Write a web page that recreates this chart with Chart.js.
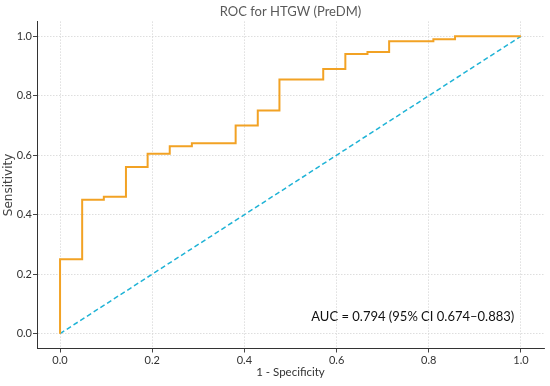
<!DOCTYPE html>
<html>
<head>
<meta charset="utf-8">
<script src="https://cdn.jsdelivr.net/npm/chart.js@4"></script>
<style>
  html, body { margin: 0; padding: 0; background: #ffffff; }
  canvas { display: block; }
</style>
</head>
<body>
<canvas id="c" width="550" height="386"></canvas>
<script>
// ---- data ----
const titleText = "ROC for HTGW (PreDM)";
const xTitle = "1 - Specificity";
const yTitle = "Sensitivity";
const aucText = "AUC = 0.794 (95% CI 0.674\u20130.883)";
const tickValues = [0.0, 0.2, 0.4, 0.6, 0.8, 1.0];
// ROC corner points (false positive rate, true positive rate)
const fpr = [0, 0, 0.048, 0.095, 0.143, 0.190, 0.238, 0.286, 0.381, 0.429, 0.476, 0.571, 0.619, 0.667, 0.714, 0.810, 0.857, 1.0];
const tpr = [0, 0.25, 0.45, 0.46, 0.56, 0.605, 0.63, 0.64, 0.70, 0.75, 0.855, 0.89, 0.94, 0.947, 0.983, 0.99, 1.0, 1.0];
// chance diagonal
const diagX = [0, 1];
const diagY = [0, 1];
// annotation anchor in data units
const aucAnchorX = 0.545;
const aucAnchorY = 0.058;

const rocPoints = fpr.map((x, i) => ({ x: x, y: tpr[i] }));
const diagPoints = diagX.map((x, i) => ({ x: x, y: diagY[i] }));

const whiteBg = {
  id: 'whiteBg',
  beforeDraw(chart) {
    const ctx = chart.ctx;
    ctx.save();
    ctx.fillStyle = '#ffffff';
    ctx.fillRect(0, 0, chart.width, chart.height);
    ctx.restore();
  }
};

const aucLabel = {
  id: 'aucLabel',
  afterDatasetsDraw(chart) {
    const ctx = chart.ctx;
    const xs = chart.scales.x, ys = chart.scales.y;
    ctx.save();
    ctx.font = '13px Lato';
    ctx.fillStyle = '#111111';
    ctx.textAlign = 'left';
    ctx.textBaseline = 'middle';
    ctx.fillText(aucText, xs.getPixelForValue(aucAnchorX), ys.getPixelForValue(aucAnchorY));
    ctx.restore();
  }
};

const setTicks = (axis) => { axis.ticks = tickValues.map(v => ({ value: v })); };

new Chart(document.getElementById('c'), {
  type: 'scatter',
  data: {
    datasets: [
      {
        data: rocPoints,
        showLine: true,
        stepped: true,
        borderColor: '#F2A224',
        borderWidth: 2,
        pointRadius: 0,
        fill: false
      },
      {
        data: diagPoints,
        showLine: true,
        borderColor: '#1FB3D6',
        borderWidth: 1.5,
        borderDash: [5, 3],
        pointRadius: 0,
        fill: false
      }
    ]
  },
  options: {
    responsive: false,
    animation: false,
    layout: { padding: { left: 0, right: 6, top: 0, bottom: 0 } },
    plugins: {
      legend: { display: false },
      tooltip: { enabled: false },
      title: {
        display: true,
        text: titleText,
        fullSize: false,
        color: '#5a5a5a',
        font: { family: 'Lato', size: 13, weight: 'normal' },
        padding: { top: 3.6, bottom: 2.2 }
      }
    },
    scales: {
      x: {
        type: 'linear',
        min: -0.05,
        max: 1.05,
        afterBuildTicks: setTicks,
        afterFit: (s) => { s.height = 37.5; },
        ticks: {
          callback: (v) => Number(v).toFixed(1),
          color: '#333333',
          font: { family: 'Lato', size: 11 },
          padding: 1,
          maxRotation: 0
        },
        grid: {
          color: '#d6d6d6',
          lineWidth: 0.8,
          tickLength: 4,
          tickColor: '#444444',
          tickWidth: 1,
          tickBorderDash: []
        },
        border: { color: '#333333', width: 1, dash: [1.5, 1.5] },
        title: {
          display: true,
          text: xTitle,
          color: '#333333',
          font: { family: 'Lato', size: 11.5 },
          padding: { top: 0, bottom: 6.5 }
        }
      },
      y: {
        type: 'linear',
        min: -0.05,
        max: 1.05,
        afterBuildTicks: setTicks,
        afterFit: (s) => { s.width = 37; },
        ticks: {
          callback: (v) => Number(v).toFixed(1),
          color: '#333333',
          font: { family: 'Lato', size: 11 },
          padding: 1
        },
        grid: {
          color: '#d6d6d6',
          lineWidth: 0.8,
          tickLength: 4,
          tickColor: '#444444',
          tickWidth: 1,
          tickBorderDash: []
        },
        border: { color: '#333333', width: 1, dash: [1.5, 1.5] },
        title: {
          display: true,
          text: yTitle,
          color: '#444444',
          font: { family: 'DejaVu Sans', size: 12 },
          padding: { top: 2, bottom: 0 }
        }
      }
    }
  },
  plugins: [whiteBg, aucLabel]
});
</script>
</body>
</html>
